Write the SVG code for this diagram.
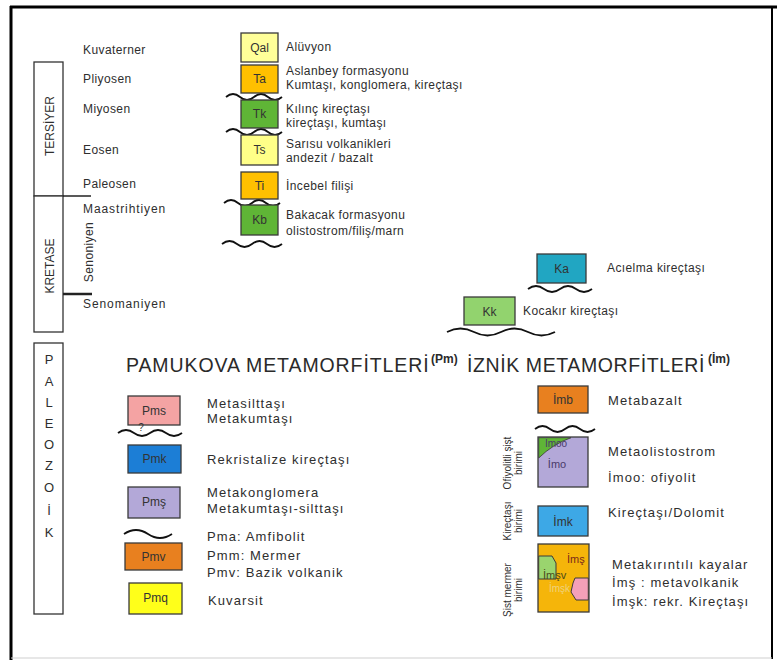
<svg xmlns="http://www.w3.org/2000/svg" width="777" height="660" viewBox="0 0 777 660">
<style>
  text { font-family: "Liberation Sans", Arial, sans-serif; }
  .box { stroke: #3a3a3a; stroke-width: 1.3; }
  .col { fill: #fff; stroke: #333; stroke-width: 1.3; }
  .lbl { font-size: 12px; fill: #2e2e2e; letter-spacing: 0.4px; }
  .ep { letter-spacing: 0.9px; }
  .big { font-size: 13px; fill: #2e2e2e; letter-spacing: 1.1px; }
  .code { font-size: 12px; text-anchor: middle; fill: #333; }
  .vert { font-size: 12px; fill: #2e2e2e; text-anchor: middle; }
  .small { font-size: 10px; fill: #333; text-anchor: middle; }
  .wave { fill: none; stroke: #111; stroke-width: 1.8; }
  .tick { stroke: #222; }
  .ttl { font-size: 19.5px; fill: #2a2a2a; letter-spacing: 0.9px; }
  .sup { font-size: 12px; font-weight: bold; fill: #2a2a2a; }
</style>

<rect width="777" height="660" fill="#fff"/>

<!-- frame -->
<g id="frame">
  <line x1="10" y1="7" x2="777" y2="7" stroke="#000" stroke-width="3"/>
  <line x1="11" y1="6" x2="11" y2="660" stroke="#000" stroke-width="3"/>
  <line x1="772" y1="6" x2="772" y2="659" stroke="#000" stroke-width="2"/>
  <line x1="11" y1="658" x2="772" y2="658" stroke="#d0d0d0" stroke-width="1.2"/>
</g>

<!-- era columns -->
<g id="tersiyer">
  <rect class="col" x="34" y="62" width="29" height="134"/>
  <text class="vert" transform="translate(54,126) rotate(-90)">TERSİYER</text>
</g>
<g id="kretase">
  <rect class="col" x="34" y="196" width="29" height="136"/>
  <text class="vert" transform="translate(54,266) rotate(-90)">KRETASE</text>
</g>
<g id="paleozoik">
  <rect class="col" x="34" y="343" width="29" height="271"/>
  <g class="vert" style="font-size:13px">
    <text x="49" y="364">P</text>
    <text x="49" y="386">A</text>
    <text x="49" y="407">L</text>
    <text x="49" y="428">E</text>
    <text x="49" y="449">O</text>
    <text x="49" y="470">Z</text>
    <text x="49" y="492">O</text>
    <text x="49" y="515">İ</text>
    <text x="49" y="537">K</text>
  </g>
</g>

<!-- epoch labels -->
<g id="epochs" class="lbl">
  <text x="83" y="54">Kuvaterner</text>
  <text x="83" y="83">Pliyosen</text>
  <text x="83" y="113">Miyosen</text>
  <text x="83" y="154">Eosen</text>
  <text x="83" y="188">Paleosen</text>
  <text class="ep" x="83" y="213">Maastrihtiyen</text>
  <text class="ep" x="83" y="308">Senomaniyen</text>
  <text class="vert" transform="translate(93,252) rotate(-90)">Senoniyen</text>
</g>

<!-- connectors: tick lines and unconformities -->
<g id="connectors">
  <line class="tick" x1="63" y1="196" x2="91" y2="196" stroke-width="1.5"/>
  <line class="tick" x1="63" y1="294" x2="92" y2="294" stroke-width="2.5"/>
  <path class="wave" d="M226,97 q7,-6 14,0 t14,0 t14,0 t14,0"/>
  <path class="wave" d="M226,132 q7,-6 14,0 t14,0 t14,0 t14,0"/>
  <path class="wave" d="M224,203 q7,-6 14,0 t14,0 t14,0 t14,0"/>
  <path class="wave" d="M222,244 q7.5,-6 15,0 t15,0 t15,0 t15,0"/>
  <path class="wave" d="M528,289 q8,-6 16,0 t16,0 t16,0 t16,0"/>
  <path class="wave" d="M447,332 q13.5,-7 27,0 t27,0 t27,0 t27,0"/>
  <path class="wave" d="M118,433 q8,-6 16,0 t16,0 t16,0 t16,0"/>
  <path class="wave" d="M124,534 q12,-8 24,0 t24,0" stroke-width="2.5"/>
  <path class="wave" d="M535,429 q7.5,-6 15,0 t15,0 t15,0 t15,0"/>
</g>

<!-- Tertiary / Cretaceous units -->
<g id="Qal"><rect class="box" x="241" y="33" width="37" height="29" fill="#ffff99"/><text class="code" x="259.5" y="52">Qal</text><text class="lbl" x="286" y="51">Alüvyon</text></g>
<g id="Ta"><rect class="box" x="241" y="65" width="37" height="28" fill="#ffc000"/><text class="code" x="259.5" y="83">Ta</text><text class="lbl" x="286" y="75">Aslanbey formasyonu</text><text class="lbl" x="286" y="89">Kumtaşı, konglomera, kireçtaşı</text></g>
<g id="Tk"><rect class="box" x="241" y="100" width="37" height="28" fill="#5fb536"/><text class="code" x="259.5" y="118" fill="#1d3d1d">Tk</text><text class="lbl" x="286" y="113">Kılınç kireçtaşı</text><text class="lbl" x="286" y="127">kireçtaşı, kumtaşı</text></g>
<g id="Ts"><rect class="box" x="241" y="135" width="37" height="30" fill="#ffff88"/><text class="code" x="259.5" y="154">Ts</text><text class="lbl" x="286" y="148">Sarısu volkanikleri</text><text class="lbl" x="286" y="162">andezit / bazalt</text></g>
<g id="Ti"><rect class="box" x="241" y="172" width="37" height="27" fill="#ffc000"/><text class="code" x="259.5" y="190">Ti</text><text class="lbl" x="286" y="190">İncebel filişi</text></g>
<g id="Kb"><rect class="box" x="241" y="205" width="37" height="30" fill="#5fb536"/><text class="code" x="259.5" y="224" fill="#1d3d1d">Kb</text><text class="lbl" x="286" y="219">Bakacak formasyonu</text><text class="lbl" x="286" y="235">olistostrom/filiş/marn</text></g>
<g id="Ka"><rect class="box" x="537" y="254" width="49" height="29" fill="#21a6c2"/><text class="code" x="561.5" y="273" fill="#1a4a7a">Ka</text><text class="lbl" x="607" y="272">Acıelma kireçtaşı</text></g>
<g id="Kk"><rect class="box" x="464" y="297" width="51" height="28" fill="#92d36e"/><text class="code" x="489.5" y="316" fill="#1d4a1d">Kk</text><text class="lbl" x="523" y="315">Kocakır kireçtaşı</text></g>

<!-- Titles -->
<g id="titles">
  <text class="ttl" x="126" y="372">PAMUKOVA METAMORFİTLERİ</text>
  <text class="sup" x="431" y="363">(Pm)</text>
  <text class="ttl" x="467" y="372" style="letter-spacing:0.6px">İZNİK METAMORFİTLERİ</text>
  <text class="sup" x="708" y="363">(İm)</text>
</g>

<!-- Pamukova units -->
<g id="Pms"><rect class="box" x="128" y="396" width="52" height="29" fill="#f4a3a3"/><text class="code" x="154" y="415" fill="#7a1c1c">Pms</text><text class="big" x="207" y="408">Metasilttaşı</text><text class="big" x="207" y="423">Metakumtaşı</text><text class="small" x="141" y="431">?</text></g>
<g id="Pmk"><rect class="box" x="128" y="445" width="53" height="28" fill="#1c7ed6"/><text class="code" x="154.5" y="463" fill="#0d3a70">Pmk</text><text class="big" x="207" y="464">Rekristalize kireçtaşı</text></g>
<g id="Pmsh"><rect class="box" x="128" y="487" width="52" height="31" fill="#b3a8d8"/><text class="code" x="154" y="506" fill="#45306e">Pmş</text><text class="big" x="207" y="497">Metakonglomera</text><text class="big" x="207" y="513">Metakumtaşı-silttaşı</text></g>
<g id="Pmv"><rect class="box" x="125" y="543" width="57" height="27" fill="#e8801f"/><text class="code" x="153.5" y="561" fill="#7a1a0a">Pmv</text><text class="big" x="207" y="541">Pma: Amfibolit</text><text class="big" x="207" y="560">Pmm: Mermer</text><text class="big" x="207" y="577">Pmv: Bazik volkanik</text></g>
<g id="Pmq"><rect class="box" x="129" y="583" width="53" height="31" fill="#ffff1a"/><text class="code" x="155.5" y="602" fill="#333">Pmq</text><text class="big" x="208" y="605">Kuvarsit</text></g>

<!-- Iznik units -->
<g id="Imb"><rect class="box" x="538" y="386" width="50" height="27" fill="#e8801f"/><text class="code" x="563" y="404" fill="#7a1a0a">İmb</text><text class="big" x="608" y="405">Metabazalt</text></g>
<g id="Imo">
  <rect class="box" x="538" y="437" width="50" height="50" fill="#b3a8d8"/>
  <path d="M538.7,437.7 H571 Q553,444 538.7,458 Z" fill="#5fb536" stroke="#3a3a3a" stroke-width="0.8"/>
  <text x="556" y="447" font-size="10" fill="#4a3a6a" text-anchor="middle">İmoo</text>
  <text x="557" y="468" font-size="11" fill="#4a3a6a" text-anchor="middle">İmo</text>
  <text class="big" x="608" y="456">Metaolistostrom</text>
  <text class="big" x="608" y="482">İmoo: ofiyolit</text>
  <text class="vert" style="font-size:10px" transform="translate(511,463) rotate(-90)">Ofiyolitli şişt</text>
  <text class="vert" style="font-size:10px" transform="translate(522,463) rotate(-90)">birimi</text>
</g>
<g id="Imk">
  <rect class="box" x="538" y="506" width="50" height="30" fill="#3da8e6"/>
  <text class="code" x="563" y="526" fill="#0d3a70">İmk</text>
  <text class="big" x="608" y="517">Kireçtaşı/Dolomit</text>
  <text class="vert" style="font-size:10px" transform="translate(511,521) rotate(-90)">Kireçtaşı</text>
  <text class="vert" style="font-size:10px" transform="translate(522,521) rotate(-90)">birimi</text>
</g>
<g id="Imsh">
  <rect class="box" x="538" y="544" width="51" height="68" fill="#f5b50a"/>
  <path d="M538.7,556 H552 L556,563 V579 H538.7 Z" fill="#9ad46e" stroke="#3a3a3a" stroke-width="1"/>
  <path d="M575,578 H588.3 V600 H576 L571,592 L573,583 Z" fill="#f4a0b8" stroke="#3a3a3a" stroke-width="1"/>
  <text x="567" y="563" font-size="11" fill="#7a2a1a">İmş</text>
  <text x="543" y="579" font-size="11" fill="#4a4a1a">İmşv</text>
  <text x="549" y="592" font-size="10" fill="#efd27a">İmşk</text>
  <text class="big" x="612" y="569">Metakırıntılı kayalar</text>
  <text class="big" x="612" y="587">İmş : metavolkanik</text>
  <text class="big" x="612" y="606">İmşk: rekr. Kireçtaşı</text>
  <text class="vert" style="font-size:10px" transform="translate(511,590) rotate(-90)">Şist mermer</text>
  <text class="vert" style="font-size:10px" transform="translate(522,590) rotate(-90)">birimi</text>
</g>
</svg>
